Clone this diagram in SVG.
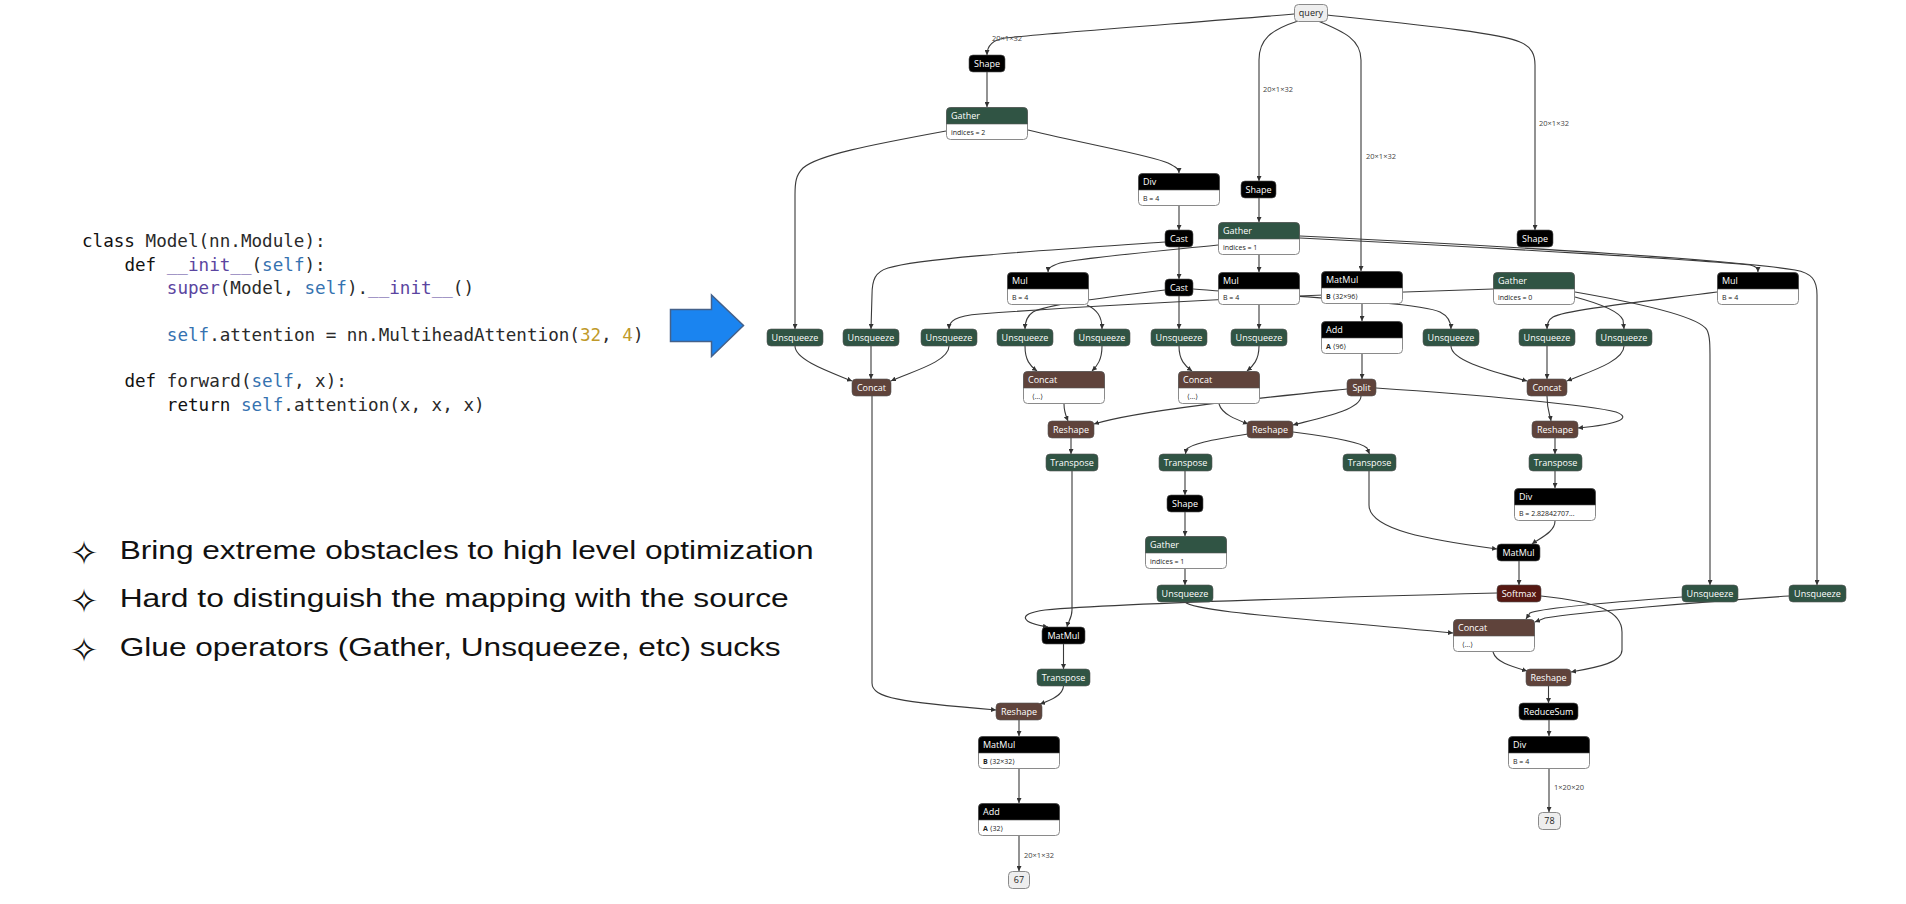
<svg xmlns="http://www.w3.org/2000/svg" xmlns:xlink="http://www.w3.org/1999/xlink" width="1906" height="904" viewBox="0 0 1906 904">
<style>
.e{fill:none;stroke:#3a3a3a;stroke-width:1.1;marker-end:url(#ah)}
.el{font-family:"Open Sans","Noto Sans",sans-serif;font-size:7.5px;fill:#444}
.blk{fill:#000;stroke:#555;stroke-width:0.6}
.grn{fill:#305444;stroke:#555;stroke-width:0.6}
.brn{fill:#5f433b;stroke:#555;stroke-width:0.6}
.red{fill:#561812;stroke:#555;stroke-width:0.6}
.io{fill:#eeeeee;stroke:#8a8a8a;stroke-width:1}
.bd{fill:#fff;stroke:#8a8a8a;stroke-width:1}
.t{font-family:"Open Sans","Noto Sans",sans-serif;font-size:9px;fill:#fff;text-anchor:middle}
.ti{font-family:"Open Sans","Noto Sans",sans-serif;font-size:9px;fill:#222;text-anchor:middle}
.ht{font-family:"Open Sans","Noto Sans",sans-serif;font-size:9px;fill:#fff}
.bt{font-family:"Open Sans","Noto Sans","DejaVu Sans",sans-serif;font-size:7px;fill:#222}
.code{font-family:"DejaVu Sans Mono",monospace;font-size:17.6px;fill:#2a2a2a}
.kw{fill:#111}
.sf{fill:#3572b0}
.fn{fill:#5b45a0}
.nm{fill:#c09a2a}
.bul{font-family:"Liberation Sans",Arial,sans-serif;font-size:25px;fill:#111}
.star{font-family:"DejaVu Sans",sans-serif;font-size:34px;fill:#111;text-anchor:middle}
</style>
<defs>
<marker id="ah" viewBox="0 0 10 10" refX="10" refY="5" markerWidth="5" markerHeight="5" orient="auto" markerUnits="userSpaceOnUse"><path d="M0,0 L10,5 L0,10 z" fill="#333"/></marker>
<path id="hdr" d="M0.5,17 V4.5 Q0.5,0.5 4.5,0.5 H77.5 Q81.5,0.5 81.5,4.5 V17 Z"/>
<rect id="bdy" class="bd" x="0.5" y="0.5" width="81" height="32" rx="4"/>
</defs>
<rect width="1906" height="904" fill="#fff"/>

<g id="code">
<text class="code" xml:space="preserve"><tspan x="82" y="247" class="kw">class</tspan><tspan> Model(nn.Module):</tspan></text>
<text class="code" xml:space="preserve"><tspan x="124.4" y="271" class="kw">def</tspan><tspan> </tspan><tspan class="fn">__init__</tspan><tspan>(</tspan><tspan class="sf">self</tspan><tspan>):</tspan></text>
<text class="code" xml:space="preserve"><tspan x="166.8" y="294" class="fn">super</tspan><tspan>(Model, </tspan><tspan class="sf">self</tspan><tspan>).</tspan><tspan class="fn">__init__</tspan><tspan>()</tspan></text>
<text class="code" xml:space="preserve"><tspan x="166.8" y="341" class="sf">self</tspan><tspan>.attention = nn.MultiheadAttention(</tspan><tspan class="nm">32</tspan><tspan>, </tspan><tspan class="nm">4</tspan><tspan>)</tspan></text>
<text class="code" xml:space="preserve"><tspan x="124.4" y="387" class="kw">def</tspan><tspan> forward(</tspan><tspan class="sf">self</tspan><tspan>, x):</tspan></text>
<text class="code" xml:space="preserve"><tspan x="166.8" y="411" class="kw">return</tspan><tspan> </tspan><tspan class="sf">self</tspan><tspan>.attention(x, x, x)</tspan></text>
</g>

<g id="big-arrow">
<path d="M670.5,309.5 H711.5 V295 L743.5,325.5 L711.5,356.5 V341.5 H670.5 Z" fill="#1a84f0" stroke="#44618a" stroke-width="1.5"/>
</g>

<g id="bullets">
<text class="star" x="84" y="565">✧</text>
<text class="bul" x="119.7" y="559" textLength="694" lengthAdjust="spacingAndGlyphs">Bring extreme obstacles to high level optimization</text>
<text class="star" x="84" y="613">✧</text>
<text class="bul" x="119.7" y="607" textLength="669" lengthAdjust="spacingAndGlyphs">Hard to distinguish the mapping with the source</text>
<text class="star" x="84" y="662">✧</text>
<text class="bul" x="119.7" y="656" textLength="661" lengthAdjust="spacingAndGlyphs">Glue operators (Gather, Unsqueeze, etc) sucks</text>
</g>

<g id="connectors">
<path class="e" d="M1294,14 C1200,22 1050,33 1005,38 C992,40 987,46 987,55"/>
<path class="e" d="M1298,21 C1270,30 1259,40 1259,60 L1259,181"/>
<path class="e" d="M1318,21 C1345,32 1361,40 1361,60 L1361,271"/>
<path class="e" d="M1327,15 C1420,25 1500,33 1520,42 C1532,47 1535,55 1535,65 L1535,230"/>
<path class="e" d="M987,72 L987,107"/>
<path class="e" d="M1028,130 C1090,145 1150,155 1168,163 C1176,167 1179,169 1179,173"/>
<path class="e" d="M946,131 C870,145 818,155 803,168 C796,175 795,182 795,195 L795,329"/>
<path class="e" d="M1179,206 L1179,230"/>
<path class="e" d="M1259,198 L1259,222"/>
<path class="e" d="M1179,247 L1179,279"/>
<path class="e" d="M1165,242 C1050,250 920,258 888,268 C875,272 872,280 872,295 L871,329"/>
<path class="e" d="M1218,245 C1150,252 1080,258 1060,263 C1051,266 1048,268 1048,272"/>
<path class="e" d="M1259,255 L1259,272"/>
<path class="e" d="M1300,238 C1500,248 1700,260 1750,265 C1756,266 1758,268 1758,272"/>
<path class="e" d="M1300,236 C1500,246 1720,258 1795,270 C1812,273 1817,280 1817,295 L1817,585"/>
<path class="e" d="M1165,290 C1100,298 1045,305 1033,312 C1027,316 1025,322 1025,329"/>
<path class="e" d="M1179,296 L1179,329"/>
<path class="e" d="M1193,289 C1280,296 1420,302 1440,312 C1448,316 1451,322 1451,329"/>
<path class="e" d="M1087,305 C1097,310 1102,316 1102,329"/>
<path class="e" d="M1259,305 L1259,329"/>
<path class="e" d="M1493,289 C1300,295 1100,305 980,314 C955,316 949,321 949,329"/>
<path class="e" d="M1717,292 C1640,302 1565,310 1553,317 C1548,320 1547,324 1547,329"/>
<path class="e" d="M1575,297 C1605,305 1620,313 1623,320 L1624,329"/>
<path class="e" d="M1575,292 C1650,305 1700,318 1707,330 C1710,336 1710,345 1710,360 L1710,585"/>
<path class="e" d="M1362,304 L1362,321"/>
<path class="e" d="M1362,354 L1362,379"/>
<path class="e" d="M795,346 C795,360 830,372 852,381"/>
<path class="e" d="M871,346 L871,379"/>
<path class="e" d="M949,346 C949,362 910,372 891,381"/>
<path class="e" d="M1025,346 C1025,360 1030,366 1037,371"/>
<path class="e" d="M1102,346 C1102,360 1097,366 1092,371"/>
<path class="e" d="M1179,346 C1179,360 1185,366 1192,371"/>
<path class="e" d="M1259,346 C1259,360 1253,366 1247,371"/>
<path class="e" d="M1451,346 C1451,362 1500,373 1527,381"/>
<path class="e" d="M1547,346 L1547,379"/>
<path class="e" d="M1624,346 C1624,362 1585,373 1567,381"/>
<path class="e" d="M872,396 L872,683 C872,698 900,702 996,710"/>
<path class="e" d="M1064,404 C1064,412 1066,416 1068,421"/>
<path class="e" d="M1347,389 C1260,398 1140,410 1094,424"/>
<path class="e" d="M1219,404 C1222,414 1235,419 1248,424"/>
<path class="e" d="M1361,396 C1361,410 1320,418 1293,425"/>
<path class="e" d="M1376,388 C1480,395 1590,405 1616,412 C1632,418 1620,424 1578,428"/>
<path class="e" d="M1547,396 C1547,410 1550,415 1551,421"/>
<path class="e" d="M1071,438 L1071,454"/>
<path class="e" d="M1248,434 C1210,440 1190,444 1186,450 L1185.5,454"/>
<path class="e" d="M1293,432 C1340,438 1362,443 1367,448 L1369.5,454"/>
<path class="e" d="M1555,438 L1555,454"/>
<path class="e" d="M1185,471 L1185,495"/>
<path class="e" d="M1185,512 L1185,536"/>
<path class="e" d="M1185,569 L1185,585"/>
<path class="e" d="M1555,471 L1555,488"/>
<path class="e" d="M1369,471 L1369,505 C1369,530 1430,540 1497,549"/>
<path class="e" d="M1555,521 C1555,532 1540,538 1532,544"/>
<path class="e" d="M1519,561 L1519,585"/>
<path class="e" d="M1497,593 C1300,598 1110,604 1045,610 C1015,614 1022,623 1048,627"/>
<path class="e" d="M1072,471 L1072,610 C1072,618 1068,622 1067,627"/>
<path class="e" d="M1063.5,644 L1063.5,669"/>
<path class="e" d="M1063.5,686 C1063,695 1052,700 1040,704"/>
<path class="e" d="M1019,720 L1019,736"/>
<path class="e" d="M1019,769 L1019,803"/>
<path class="e" d="M1019,836 L1019,871"/>
<path class="e" d="M1185,602 C1195,612 1300,618 1453,633"/>
<path class="e" d="M1682,597 C1600,603 1540,608 1530,613 L1526,619"/>
<path class="e" d="M1789,596 C1700,602 1580,612 1545,618 L1535,622"/>
<path class="e" d="M1493,652 C1496,662 1510,666 1527,671"/>
<path class="e" d="M1541,596 C1600,602 1622,612 1622,632 L1622,650 C1622,662 1600,667 1571,672"/>
<path class="e" d="M1548.5,686 L1548.5,703"/>
<path class="e" d="M1549,720 L1549,736"/>
<path class="e" d="M1549,769 L1549,812"/>
<text class="el" x="992" y="41">20×1×32</text>
<text class="el" x="1263" y="92">20×1×32</text>
<text class="el" x="1366" y="159">20×1×32</text>
<text class="el" x="1539" y="126">20×1×32</text>
<text class="el" x="1024" y="858">20×1×32</text>
<text class="el" x="1554" y="790">1×20×20</text>
</g>

<g id="n-query"><rect class="io" x="1294.5" y="4.5" width="33" height="17" rx="4"/><text class="ti" x="1311" y="16">query</text></g>
<g id="n-shape1"><rect class="blk" x="969" y="55" width="36" height="17" rx="4"/><text class="t" x="987" y="67">Shape</text></g>
<g id="n-shape2"><rect class="blk" x="1241" y="181" width="35" height="17" rx="4"/><text class="t" x="1258.5" y="193">Shape</text></g>
<g id="n-shape-r"><rect class="blk" x="1517" y="230" width="36" height="17" rx="4"/><text class="t" x="1535" y="242">Shape</text></g>
<g id="n-cast1"><rect class="blk" x="1165" y="230" width="28" height="17" rx="4"/><text class="t" x="1179" y="242">Cast</text></g>
<g id="n-cast2"><rect class="blk" x="1165" y="279" width="28" height="17" rx="4"/><text class="t" x="1179" y="291">Cast</text></g>

<g id="n-gather2" transform="translate(946,107)"><use href="#bdy"/><use href="#hdr" class="grn"/><text class="ht" x="5" y="12">Gather</text><text class="bt" x="5" y="28">indices = 2</text></g>
<g id="n-div1" transform="translate(1138,173)"><use href="#bdy"/><use href="#hdr" class="blk"/><text class="ht" x="5" y="12">Div</text><text class="bt" x="5" y="28">B = 4</text></g>
<g id="n-gather1" transform="translate(1218,222)"><use href="#bdy"/><use href="#hdr" class="grn"/><text class="ht" x="5" y="12">Gather</text><text class="bt" x="5" y="28">indices = 1</text></g>
<g id="n-mul-l" transform="translate(1007,272)"><use href="#bdy"/><use href="#hdr" class="blk"/><text class="ht" x="5" y="12">Mul</text><text class="bt" x="5" y="28">B = 4</text></g>
<g id="n-mul-m" transform="translate(1218,272)"><use href="#bdy"/><use href="#hdr" class="blk"/><text class="ht" x="5" y="12">Mul</text><text class="bt" x="5" y="28">B = 4</text></g>
<g id="n-matmul1" transform="translate(1321,271)"><use href="#bdy"/><use href="#hdr" class="blk"/><text class="ht" x="5" y="12">MatMul</text><text class="bt" x="5" y="28"><tspan font-weight="bold">B</tspan> ⟨32×96⟩</text></g>
<g id="n-gather0" transform="translate(1493,272)"><use href="#bdy"/><use href="#hdr" class="grn"/><text class="ht" x="5" y="12">Gather</text><text class="bt" x="5" y="28">indices = 0</text></g>
<g id="n-mul-r" transform="translate(1717,272)"><use href="#bdy"/><use href="#hdr" class="blk"/><text class="ht" x="5" y="12">Mul</text><text class="bt" x="5" y="28">B = 4</text></g>
<g id="n-add1" transform="translate(1321,321)"><use href="#bdy"/><use href="#hdr" class="blk"/><text class="ht" x="5" y="12">Add</text><text class="bt" x="5" y="28"><tspan font-weight="bold">A</tspan> ⟨96⟩</text></g>

<g id="n-u1"><rect class="grn" x="767" y="329" width="56" height="17" rx="4"/><text class="t" x="795" y="341">Unsqueeze</text></g>
<g id="n-u2"><rect class="grn" x="843" y="329" width="56" height="17" rx="4"/><text class="t" x="871" y="341">Unsqueeze</text></g>
<g id="n-u3"><rect class="grn" x="921" y="329" width="56" height="17" rx="4"/><text class="t" x="949" y="341">Unsqueeze</text></g>
<g id="n-u4"><rect class="grn" x="997" y="329" width="56" height="17" rx="4"/><text class="t" x="1025" y="341">Unsqueeze</text></g>
<g id="n-u5"><rect class="grn" x="1074" y="329" width="56" height="17" rx="4"/><text class="t" x="1102" y="341">Unsqueeze</text></g>
<g id="n-u6"><rect class="grn" x="1151" y="329" width="56" height="17" rx="4"/><text class="t" x="1179" y="341">Unsqueeze</text></g>
<g id="n-u7"><rect class="grn" x="1231" y="329" width="56" height="17" rx="4"/><text class="t" x="1259" y="341">Unsqueeze</text></g>
<g id="n-u8"><rect class="grn" x="1423" y="329" width="56" height="17" rx="4"/><text class="t" x="1451" y="341">Unsqueeze</text></g>
<g id="n-u9"><rect class="grn" x="1519" y="329" width="56" height="17" rx="4"/><text class="t" x="1547" y="341">Unsqueeze</text></g>
<g id="n-u10"><rect class="grn" x="1596" y="329" width="56" height="17" rx="4"/><text class="t" x="1624" y="341">Unsqueeze</text></g>

<g id="n-concat-sl"><rect class="brn" x="852" y="379" width="39" height="17" rx="4"/><text class="t" x="871.5" y="391">Concat</text></g>
<g id="n-concat-lb" transform="translate(1023,371)"><use href="#bdy"/><use href="#hdr" class="brn"/><text class="ht" x="5" y="12">Concat</text><text class="bt" x="9" y="28">⟨…⟩</text></g>
<g id="n-concat-cb" transform="translate(1178,371)"><use href="#bdy"/><use href="#hdr" class="brn"/><text class="ht" x="5" y="12">Concat</text><text class="bt" x="9" y="28">⟨…⟩</text></g>
<g id="n-split"><rect class="brn" x="1347" y="379" width="29" height="17" rx="4"/><text class="t" x="1361.5" y="391">Split</text></g>
<g id="n-concat-sr"><rect class="brn" x="1527" y="379" width="40" height="17" rx="4"/><text class="t" x="1547" y="391">Concat</text></g>

<g id="n-reshape1"><rect class="brn" x="1048" y="421" width="46" height="17" rx="4"/><text class="t" x="1071" y="433">Reshape</text></g>
<g id="n-reshape2"><rect class="brn" x="1247" y="421" width="46" height="17" rx="4"/><text class="t" x="1270" y="433">Reshape</text></g>
<g id="n-reshape3"><rect class="brn" x="1532" y="421" width="46" height="17" rx="4"/><text class="t" x="1555" y="433">Reshape</text></g>

<g id="n-t1"><rect class="grn" x="1046" y="454" width="52" height="17" rx="4"/><text class="t" x="1072" y="466">Transpose</text></g>
<g id="n-t2"><rect class="grn" x="1159" y="454" width="53" height="17" rx="4"/><text class="t" x="1185.5" y="466">Transpose</text></g>
<g id="n-t3"><rect class="grn" x="1343" y="454" width="53" height="17" rx="4"/><text class="t" x="1369.5" y="466">Transpose</text></g>
<g id="n-t4"><rect class="grn" x="1529" y="454" width="53" height="17" rx="4"/><text class="t" x="1555.5" y="466">Transpose</text></g>

<g id="n-shape3"><rect class="blk" x="1167" y="495" width="36" height="17" rx="4"/><text class="t" x="1185" y="507">Shape</text></g>
<g id="n-div283" transform="translate(1514,488)"><use href="#bdy"/><use href="#hdr" class="blk"/><text class="ht" x="5" y="12">Div</text><text class="bt" x="5" y="28">B = 2.82842707...</text></g>
<g id="n-gather-low" transform="translate(1145,536)"><use href="#bdy"/><use href="#hdr" class="grn"/><text class="ht" x="5" y="12">Gather</text><text class="bt" x="5" y="28">indices = 1</text></g>
<g id="n-matmul-mid"><rect class="blk" x="1497" y="544" width="43" height="17" rx="4"/><text class="t" x="1518.5" y="556">MatMul</text></g>
<g id="n-softmax"><rect class="red" x="1497" y="585" width="44" height="17" rx="4"/><text class="t" x="1519" y="597">Softmax</text></g>
<g id="n-u13"><rect class="grn" x="1157" y="585" width="56" height="17" rx="4"/><text class="t" x="1185" y="597">Unsqueeze</text></g>
<g id="n-u11"><rect class="grn" x="1682" y="585" width="56" height="17" rx="4"/><text class="t" x="1710" y="597">Unsqueeze</text></g>
<g id="n-u12"><rect class="grn" x="1789" y="585" width="57" height="17" rx="4"/><text class="t" x="1817.5" y="597">Unsqueeze</text></g>
<g id="n-concat-low" transform="translate(1453,619)"><use href="#bdy"/><use href="#hdr" class="brn"/><text class="ht" x="5" y="12">Concat</text><text class="bt" x="9" y="28">⟨…⟩</text></g>
<g id="n-matmul-l"><rect class="blk" x="1042" y="627" width="43" height="17" rx="4"/><text class="t" x="1063.5" y="639">MatMul</text></g>
<g id="n-t5"><rect class="grn" x="1037" y="669" width="53" height="17" rx="4"/><text class="t" x="1063.5" y="681">Transpose</text></g>
<g id="n-reshape-low"><rect class="brn" x="1526" y="669" width="45" height="17" rx="4"/><text class="t" x="1548.5" y="681">Reshape</text></g>
<g id="n-reshape-bl"><rect class="brn" x="996" y="703" width="46" height="17" rx="4"/><text class="t" x="1019" y="715">Reshape</text></g>
<g id="n-reducesum"><rect class="blk" x="1519" y="703" width="59" height="17" rx="4"/><text class="t" x="1548.5" y="715">ReduceSum</text></g>
<g id="n-matmul3232" transform="translate(978,736)"><use href="#bdy"/><use href="#hdr" class="blk"/><text class="ht" x="5" y="12">MatMul</text><text class="bt" x="5" y="28"><tspan font-weight="bold">B</tspan> ⟨32×32⟩</text></g>
<g id="n-add32" transform="translate(978,803)"><use href="#bdy"/><use href="#hdr" class="blk"/><text class="ht" x="5" y="12">Add</text><text class="bt" x="5" y="28"><tspan font-weight="bold">A</tspan> ⟨32⟩</text></g>
<g id="n-div-low" transform="translate(1508,736)"><use href="#bdy"/><use href="#hdr" class="blk"/><text class="ht" x="5" y="12">Div</text><text class="bt" x="5" y="28">B = 4</text></g>
<g id="n-out67"><rect class="io" x="1008.5" y="871.5" width="21" height="17" rx="4"/><text class="ti" x="1019" y="883">67</text></g>
<g id="n-out78"><rect class="io" x="1538.5" y="812.5" width="22" height="17" rx="4"/><text class="ti" x="1549.5" y="824">78</text></g>
</svg>
